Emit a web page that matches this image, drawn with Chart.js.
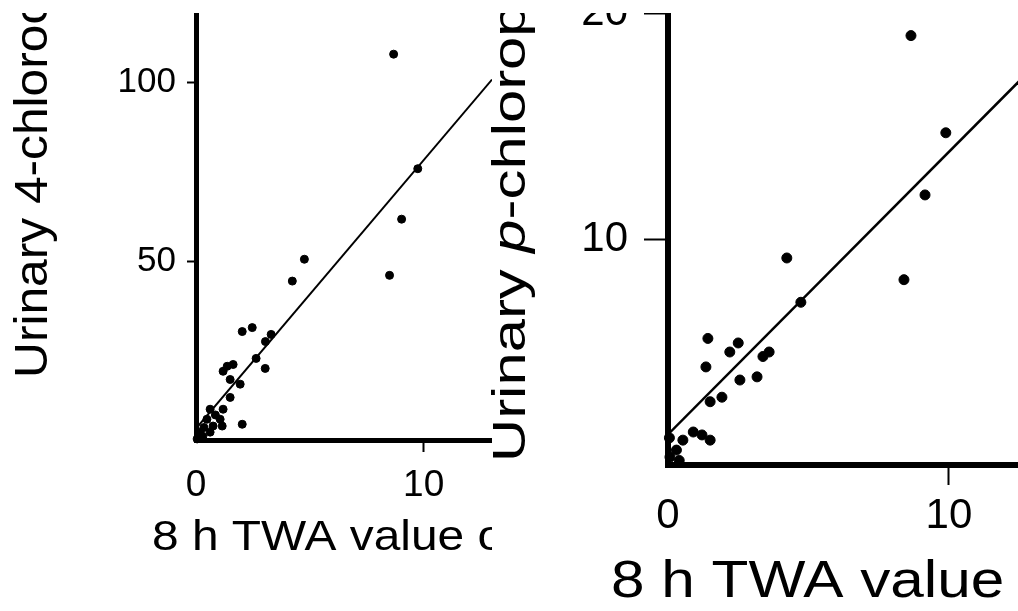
<!DOCTYPE html>
<html>
<head>
<meta charset="utf-8">
<script src="https://cdn.jsdelivr.net/npm/chart.js@4.4.1/dist/chart.umd.min.js"></script>
<style>
    body { margin: 0; background: #fff; }
    #page { position: relative; width: 1018px; height: 611px; overflow: hidden; background: #fff; }
    #leftBox { position: absolute; left: 0; top: 13px; }
    #rightBox { position: absolute; left: 490px; top: 13px; }
</style>
</head>
<body>
<div id="page">
    <div id="leftBox"><canvas id="chlorocatechol" width="492" height="598"></canvas></div>
    <div id="rightBox"><canvas id="chlorophenol" width="528" height="598"></canvas></div>
</div>
<script>
// 4-chlorocatechol in urine vs 8 h TWA exposure
const catecholX = [8.68, 9.74, 9.03, 8.5, 4.76, 4.23, 2.03, 2.47, 3.3, 3.05, 2.64, 3.04, 1.37, 1.63, 1.19, 1.94, 1.5, 1.5, 1.19, 0.62, 1.06, 1.15, 2.03, 0.48, 0.18, 0.62, 0.75, 0.05, 0.3, 0.85, 0.35];
const catecholY = [107.8, 75.8, 61.7, 46.0, 50.5, 44.4, 30.3, 31.4, 29.5, 27.5, 22.8, 20.0, 20.6, 21.1, 19.2, 15.6, 16.9, 11.9, 8.6, 8.6, 5.8, 3.9, 4.4, 5.8, 2.2, 2.2, 3.9, 0.3, 1.0, 7.0, 3.5];
const catecholFitX = [0, 13];
const catecholFitY = [3.2, 100.7];

// p-chlorophenol in urine vs 8 h TWA exposure
const phenolX = [8.65, 9.89, 9.15, 8.4, 4.23, 4.73, 1.42, 2.2, 2.5, 1.35, 3.38, 3.6, 3.17, 2.56, 1.92, 1.5, 1.21, 1.5, 0.9, 0.53, 0.3, 0.07, 0.05, 0.4];
const phenolY = [19.0, 14.7, 11.95, 8.2, 9.16, 7.2, 5.6, 5.0, 5.4, 4.34, 4.8, 5.0, 3.9, 3.76, 3.0, 2.8, 1.33, 1.1, 1.46, 1.1, 0.66, 0.35, 1.2, 0.2];
const phenolFitX = [0, 12.5];
const phenolFitY = [1.35, 16.98];

const xTicks = [0, 10];
const catecholYTicks = [50, 100];
const phenolYTicks = [10, 20];

const FONT = '"Liberation Sans", Arial, Helvetica, sans-serif';

function toPoints(xs, ys) {
    return xs.map((x, i) => ({ x: x, y: ys[i] }));
}

// draws a run of text pieces (some italic) with an optional stretch along the text
function drawRuns(ctx, runs, x, y, rot, size, stretch) {
    ctx.save();
    ctx.translate(x, y);
    ctx.rotate(rot);
    ctx.scale(stretch, 1);
    ctx.fillStyle = '#000';
    ctx.textBaseline = 'alphabetic';
    ctx.textAlign = 'left';
    let cx = 0;
    runs.forEach(run => {
        ctx.font = (run.italic ? 'italic ' : '') + size + 'px ' + FONT;
        ctx.fillText(run.text, cx, 0);
        cx += ctx.measureText(run.text).width;
    });
    ctx.restore();
}

function titlePlugin(titles) {
    return {
        id: 'axisTitles',
        afterDraw(chart) {
            titles.forEach(t => drawRuns(chart.ctx, t.runs, t.x, t.y, t.rot, t.size, t.stretch));
        }
    };
}

function makeScatter(canvasId, opts) {
    const ctx = document.getElementById(canvasId).getContext('2d');
    const keepTicks = list => scale => {
        scale.ticks = list.map(v => ({ value: v }));
    };
    return new Chart(ctx, {
        type: 'scatter',
        data: {
            datasets: [{
                data: toPoints(opts.xs, opts.ys),
                backgroundColor: '#000',
                borderColor: '#000',
                pointRadius: opts.dot,
                pointHoverRadius: opts.dot,
                clip: false
            }, {
                type: 'line',
                data: toPoints(opts.fitX, opts.fitY),
                borderColor: '#000',
                borderWidth: opts.lineW,
                pointRadius: 0,
                fill: false
            }]
        },
        options: {
            responsive: false,
            animation: false,
            events: [],
            layout: { padding: 0, autoPadding: false },
            plugins: { legend: { display: false }, tooltip: { enabled: false } },
            scales: {
                x: {
                    type: 'linear',
                    min: 0,
                    max: opts.xMax,
                    afterBuildTicks: keepTicks(xTicks),
                    afterFit(s) {
                        s.height = opts.xHeight;
                        s.paddingLeft = 0;
                        s.paddingRight = 0;
                    },
                    border: { display: true, color: '#000', width: opts.axisW },
                    grid: {
                        drawOnChartArea: false,
                        drawTicks: true,
                        tickLength: opts.xTickLen,
                        tickWidth: 2,
                        tickColor: c => (c.tick && c.tick.value === 0) ? 'rgba(0,0,0,0)' : '#000'
                    },
                    ticks: {
                        color: '#000',
                        padding: opts.xPad,
                        maxRotation: 0,
                        font: { family: FONT, size: opts.xFont }
                    }
                },
                y: {
                    type: 'linear',
                    min: 0,
                    max: opts.yMax,
                    afterBuildTicks: keepTicks(opts.yTicks),
                    afterFit(s) {
                        s.width = opts.yWidth;
                        s.paddingTop = 0;
                        s.paddingBottom = 0;
                    },
                    border: { display: true, color: '#000', width: opts.axisW },
                    grid: {
                        drawOnChartArea: false,
                        drawTicks: true,
                        tickLength: opts.yTickLen,
                        tickWidth: 2,
                        tickColor: '#000'
                    },
                    ticks: {
                        color: '#000',
                        padding: opts.yPad,
                        font: { family: FONT, size: opts.yFont }
                    }
                }
            }
        },
        plugins: [titlePlugin(opts.titles)]
    });
}

makeScatter('chlorocatechol', {
    xs: catecholX, ys: catecholY, fitX: catecholFitX, fitY: catecholFitY,
    xMax: 13, yMax: 119.3, yTicks: catecholYTicks,
    yWidth: 196, xHeight: 171,
    axisW: 5, lineW: 2, dot: 4,
    xTickLen: 12, yTickLen: 9, xPad: 12, yPad: 11,
    xFont: 37, yFont: 35,
    titles: [
        { runs: [{ text: 'Urinary 4-chlorocatechol' }], x: 47, y: 365, rot: -Math.PI / 2, size: 46, stretch: 1.08 },
        { runs: [{ text: '8 h TWA value of chlorobenzene (ppm)' }], x: 152, y: 537, rot: 0, size: 42, stretch: 1.14 }
    ]
});

makeScatter('chlorophenol', {
    xs: phenolX, ys: phenolY, fitX: phenolFitX, fitY: phenolFitY,
    xMax: 12.46, yMax: 20, yTicks: phenolYTicks,
    yWidth: 178, xHeight: 146,
    axisW: 6, lineW: 2.5, dot: 5,
    xTickLen: 20, yTickLen: 24, xPad: 6, yPad: 16,
    xFont: 42, yFont: 42,
    titles: [
        { runs: [{ text: 'Urinary ' }, { text: 'p', italic: true }, { text: '-chlorophenol' }], x: 35, y: 449, rot: -Math.PI / 2, size: 46, stretch: 1.3 },
        { runs: [{ text: '8 h TWA value of chlorobenzene (ppm)' }], x: 121, y: 584, rot: 0, size: 52, stretch: 1.16 }
    ]
});
</script>
</body>
</html>
